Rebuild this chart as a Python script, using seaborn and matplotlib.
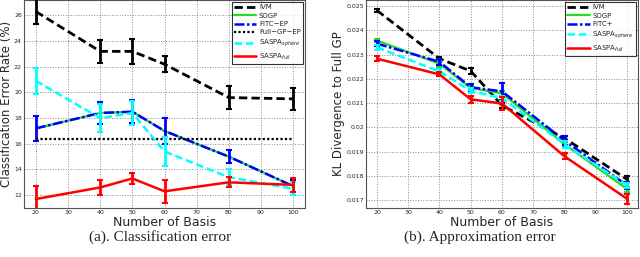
import numpy as np
import pandas as pd
import matplotlib
matplotlib.use("Agg")
import matplotlib.pyplot as plt
import seaborn as sns

sns.set_style("whitegrid")
plt.rcParams['font.family'] = ['DejaVu Sans']

basis = [20, 40, 50, 60, 80, 100]

# (a) classification error (%)
ivm_cls = [26.3, 23.2, 23.2, 22.2, 19.6, 19.5]
ivm_cls_err = [0.95, 0.9, 1.0, 0.6, 0.9, 0.85]
sogp_cls = [17.2, 18.4, 18.5, 17.0, 15.0, 12.7]
fitc_cls = [17.2, 18.4, 18.5, 17.0, 15.0, 12.7]
fitc_cls_err = [1.0, 0.85, 0.9, 1.0, 0.5, 0.45]
fullgp_cls = [16.4, 16.4, 16.4, 16.4, 16.4, 16.4]
sphere_cls = [20.9, 18.0, 18.4, 15.4, 13.4, 12.5]
sphere_cls_err = [1.0, 1.1, 0.9, 1.1, 0.6, 0.5]
full_cls = [11.7, 12.6, 13.3, 12.3, 13.0, 12.8]
full_cls_err = [1.0, 0.55, 0.4, 0.9, 0.4, 0.55]

# (b) KL divergence to full GP
ivm_kl = [0.02482, 0.02283, 0.02232, 0.02090, 0.01955, 0.01785]
ivm_kl_err = [0.00007, 0.00008, 0.00012, 0.00010, 0.00010, 0.00012]
sogp_kl = [0.02358, 0.02262, 0.02162, 0.02140, 0.01930, 0.01745]
sogp_kl_err = [0.00008, 0.00012, 0.00010, 0.00010, 0.00010, 0.00010]
fitc_kl = [0.02345, 0.02270, 0.02165, 0.02148, 0.01945, 0.01760]
fitc_kl_err = [0.00010, 0.00012, 0.00015, 0.00035, 0.00020, 0.00015]
sphere_kl = [0.02330, 0.02230, 0.02150, 0.02120, 0.01930, 0.01760]
sphere_kl_err = [0.00010, 0.00010, 0.00010, 0.00010, 0.00015, 0.00012]
full_kl = [0.02283, 0.02218, 0.02115, 0.02098, 0.01880, 0.01705]
full_kl_err = [0.00010, 0.00008, 0.00015, 0.00025, 0.00012, 0.00020]


def draw(ax, series, label_y, ylim, yticks, ytick_labels):
    for name, vals, errs, color, ls, lw in series:
        df = pd.DataFrame({"basis": basis, "value": vals})
        sns.lineplot(data=df, x="basis", y="value", ax=ax, color=color,
                     linestyle=ls, linewidth=lw, label=name, zorder=3)
        if errs is not None:
            ax.errorbar(basis, vals, yerr=errs, fmt="none", ecolor=color,
                        elinewidth=2, capsize=2.5, capthick=1.5, zorder=3)
    ax.set_xlim(16.3, 103.7)
    ax.set_ylim(*ylim)
    ax.set_xticks([20, 30, 40, 50, 60, 70, 80, 90, 100])
    ax.set_yticks(yticks)
    ax.set_yticklabels(ytick_labels)
    ax.tick_params(axis="both", labelsize=4.5, pad=1.5, length=2, direction="in")
    ax.set_xlabel("Number of Basis", fontsize=9, labelpad=1)
    ax.set_ylabel(label_y, fontsize=8.5, labelpad=1)
    ax.grid(True, color="#888888", linestyle=":", linewidth=0.7)
    for s in ax.spines.values():
        s.set_color("#555555")
        s.set_linewidth(0.8)
    leg = ax.legend(loc="upper right", fontsize=5, frameon=True, fancybox=False,
                    handlelength=3.2, borderpad=0.3, labelspacing=0.35,
                    handletextpad=0.4, borderaxespad=0.3)
    leg.get_frame().set_edgecolor("black")
    leg.get_frame().set_linewidth(0.8)


fig = plt.figure(figsize=(6.4, 2.57), dpi=100)
ax1 = fig.add_axes([24 / 640, 49 / 257, 281 / 640, 208 / 257])
ax2 = fig.add_axes([366 / 640, 49 / 257, 272 / 640, 208 / 257])

cls_series = [
    ("IVM", ivm_cls, ivm_cls_err, "black", (0, (3, 1.5)), 2),
    ("SOGP", sogp_cls, None, "#22dd22", "-", 1.6),
    ("FITC\u2212EP", fitc_cls, fitc_cls_err, "blue", (0, (4, 1, 1, 1)), 1.8),
    ("Full\u2212GP\u2212EP", fullgp_cls, None, "black", (0, (1, 1)), 1.6),
    ("SASPA$_{sphere}$", sphere_cls, sphere_cls_err, "cyan", (0, (3, 1.5)), 1.8),
    ("SASPA$_{full}$", full_cls, full_cls_err, "red", "-", 1.8),
]
draw(ax1, cls_series, "Classification Error Rate (%)", (11.0, 27.2),
     [12, 14, 16, 18, 20, 22, 24, 26], ["12", "14", "16", "18", "20", "22", "24", "26"])

kl_series = [
    ("IVM", ivm_kl, ivm_kl_err, "black", (0, (3, 1.5)), 2),
    ("SOGP", sogp_kl, sogp_kl_err, "#22dd22", "-", 1.6),
    ("FITC+", fitc_kl, fitc_kl_err, "blue", (0, (4, 1, 1, 1)), 1.8),
    ("SASPA$_{sphere}$", sphere_kl, sphere_kl_err, "cyan", (0, (3, 1.5)), 1.8),
    ("SASPA$_{full}$", full_kl, full_kl_err, "red", "-", 1.8),
]
kl_ticks = [0.017, 0.018, 0.019, 0.020, 0.021, 0.022, 0.023, 0.024, 0.025]
draw(ax2, kl_series, "KL Divergence to Full GP", (0.01667, 0.02525),
     kl_ticks, ["0.017", "0.018", "0.019", "0.02", "0.021", "0.022", "0.023", "0.024", "0.025"])
ax2.set_xlim(16.5, 103.5)

fig.text(160 / 640, 1 - 237 / 257, "(a). Classification error", ha="center", va="center",
         fontsize=11, family="Liberation Serif")
fig.text(480 / 640, 1 - 237 / 257, "(b). Approximation error", ha="center", va="center",
         fontsize=11, family="Liberation Serif")

fig.savefig("out.png", dpi=100)
